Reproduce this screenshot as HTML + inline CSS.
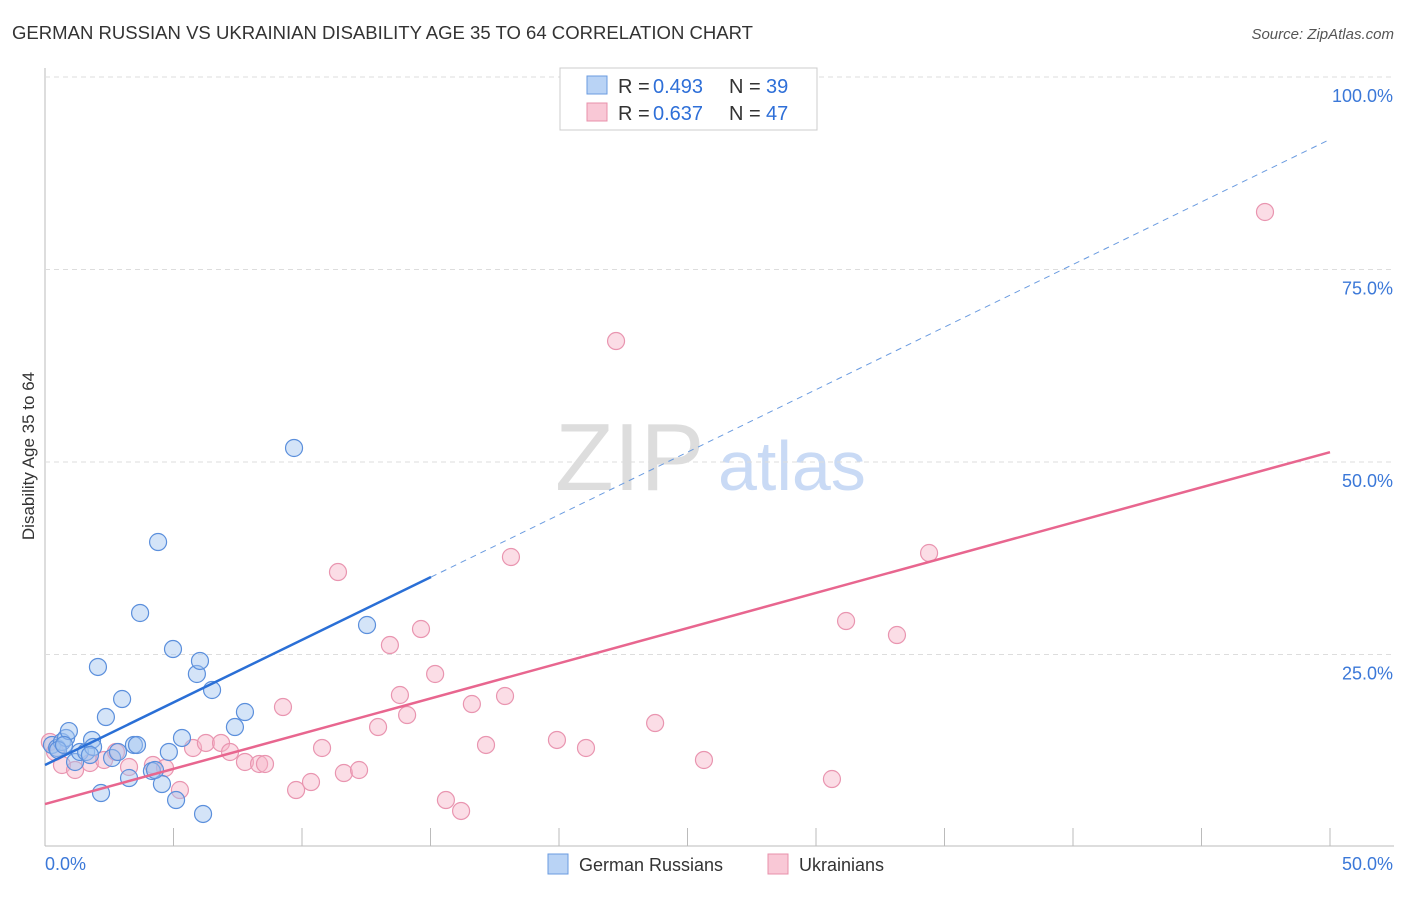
<!DOCTYPE html>
<html><head><meta charset="utf-8"><style>
body{margin:0;background:#fff;font-family:"Liberation Sans",sans-serif;}
svg text{font-family:"Liberation Sans",sans-serif;}
</style></head><body>
<svg id="chart" width="1406" height="892">
<text x="12" y="39" font-size="18" fill="#333" textLength="741" lengthAdjust="spacingAndGlyphs">GERMAN RUSSIAN VS UKRAINIAN DISABILITY AGE 35 TO 64 CORRELATION CHART</text>
<text x="1394" y="39" font-size="15" fill="#555" text-anchor="end" font-style="italic">Source: ZipAtlas.com</text>
<text x="34" y="456" font-size="17" fill="#333" text-anchor="middle" transform="rotate(-90 34 456)">Disability Age 35 to 64</text>
<g><text x="555" y="490" font-size="96" fill="#ddd" font-family="Liberation Serif, serif">ZIP</text><text x="718" y="490" font-size="70" fill="#c9daf5">atlas</text></g>
<g id="grid"></g><g id="marks"></g><g id="lines"></g>
<g>
<rect x="560" y="68" width="257" height="62" fill="#fff" stroke="#ccc"/>
<rect x="587" y="76" width="20" height="18" fill="#b9d3f5" stroke="#6a9be0"/>
<rect x="587" y="103" width="20" height="18" fill="#f9c8d6" stroke="#e890ab"/>
<text x="618" y="93" font-size="20" fill="#333">R =</text><text x="653" y="93" font-size="20" fill="#2e6fd8">0.493</text>
<text x="729" y="93" font-size="20" fill="#333">N =</text><text x="766" y="93" font-size="20" fill="#2e6fd8">39</text>
<text x="618" y="120" font-size="20" fill="#333">R =</text><text x="653" y="120" font-size="20" fill="#2e6fd8">0.637</text>
<text x="729" y="120" font-size="20" fill="#333">N =</text><text x="766" y="120" font-size="20" fill="#2e6fd8">47</text>
</g>
<g>
<rect x="548" y="854" width="20" height="20" fill="#b9d3f5" stroke="#6a9be0"/>
<text x="579" y="871" font-size="18" fill="#333">German Russians</text>
<rect x="768" y="854" width="20" height="20" fill="#f9c8d6" stroke="#e890ab"/>
<text x="799" y="871" font-size="18" fill="#333">Ukrainians</text>
</g>
</svg>
<script>
const blueX=[0.27,0.47,0.66,0.82,0.93,1.17,1.36,1.60,1.83,1.87,2.06,2.18,2.37,2.61,2.84,3.00,3.27,3.46,3.58,3.70,4.16,4.40,4.55,4.82,4.98,5.10,5.33,5.91,6.03,6.15,6.50,7.39,7.78,9.69,12.53,0.51,0.74,1.75,4.28];
const blueY=[13.25,12.86,13.64,14.16,15.06,11.04,12.34,12.34,13.90,12.99,23.38,7.01,16.88,11.56,12.34,19.22,8.96,13.25,13.25,30.39,9.87,39.61,8.18,12.34,25.71,6.10,14.16,22.47,24.16,4.29,20.39,15.58,17.53,51.82,28.83,12.60,13.25,11.95,10.0];
const pinkX=[0.19,0.39,0.66,1.17,1.75,2.30,2.76,3.27,4.20,4.67,5.25,5.76,6.26,6.85,7.20,7.78,8.33,8.56,9.26,9.77,10.35,10.78,11.40,11.63,12.22,12.96,13.42,13.81,14.09,14.63,15.18,15.60,16.19,16.61,17.16,17.90,18.13,19.92,21.05,22.22,23.74,25.64,30.62,31.17,33.15,34.40,47.47];
const pinkY=[13.64,12.34,10.65,10.0,10.91,11.30,12.34,10.39,10.65,10.26,7.40,12.86,13.51,13.51,12.34,11.04,10.78,10.78,18.18,7.40,8.44,12.86,35.71,9.61,10.0,15.58,26.23,19.74,17.14,28.31,22.47,6.10,4.68,18.57,13.25,19.61,37.66,13.90,12.86,65.71,16.10,11.30,8.83,29.35,27.53,38.18,82.47];
const yTicks=[25,50,75,100];
const yTickLabels=["25.0%","50.0%","75.0%","100.0%"];
const xTicks=[0,5,10,15,20,25,30,35,40,45,50];
const blueFit=[10.65,1.625,15.02,49.92];
const pinkFit=[5.58,0.914,50];
const NS="http://www.w3.org/2000/svg";
const sx=v=>45+v*25.7, sy=v=>847-v*7.7;
function mk(p,tag,a){const e=document.createElementNS(NS,tag);for(const k in a)e.setAttribute(k,a[k]);p.appendChild(e);return e;}
const grid=document.getElementById('grid'),marks=document.getElementById('marks'),lines=document.getElementById('lines');
let ax=mk(grid,'line',{x1:45,y1:68,x2:45,y2:846,stroke:'#bbb'});


let bx=mk(grid,'line',{x1:45,y1:846,x2:1394,y2:846,stroke:'#bbb'});


yTicks.forEach((t,i)=>{
 const g=mk(grid,'line',{x1:45,y1:sy(t),x2:1394,y2:sy(t),stroke:'#ddd','stroke-dasharray':'5,4'});
 
 
 const l=mk(grid,'text',{x:1393,y:sy(t)+25,'font-size':18,fill:'#3b78d8','text-anchor':'end'});
 l.textContent=yTickLabels[i];
 
 
});
xTicks.forEach(t=>{
 const k=mk(grid,'line',{x1:sx(t),y1:828,x2:sx(t),y2:846,stroke:'#bbb'});
 
 
});
let xl0=mk(grid,'text',{x:45,y:870,'font-size':18,fill:'#3b78d8'});xl0.textContent='0.0%';


let xl1=mk(grid,'text',{x:1393,y:870,'font-size':18,fill:'#3b78d8','text-anchor':'end'});xl1.textContent='50.0%';


pinkX.forEach((x,i)=>{
 const c=mk(marks,'circle',{cx:sx(x),cy:sy(pinkY[i]),r:8.5,fill:'rgba(246,180,200,0.45)',stroke:'#e995b0','stroke-width':1.2});
 
 
});
blueX.forEach((x,i)=>{
 const c=mk(marks,'circle',{cx:sx(x),cy:sy(blueY[i]),r:8.5,fill:'rgba(160,195,240,0.45)',stroke:'#5b8fdc','stroke-width':1.2});
 
 
});
const bl=mk(lines,'line',{x1:sx(0),y1:sy(blueFit[0]),x2:sx(blueFit[2]),y2:sy(blueFit[0]+blueFit[1]*blueFit[2]),stroke:'#2a6fd6','stroke-width':2.5});


const bd=mk(lines,'line',{x1:sx(blueFit[2]),y1:sy(blueFit[0]+blueFit[1]*blueFit[2]),x2:sx(blueFit[3]),y2:sy(blueFit[0]+blueFit[1]*blueFit[3]),stroke:'#6a9be0','stroke-width':1,'stroke-dasharray':'6,5'});


const pl=mk(lines,'line',{x1:sx(0),y1:sy(pinkFit[0]),x2:sx(pinkFit[2]),y2:sy(pinkFit[0]+pinkFit[1]*pinkFit[2]),stroke:'#e8668f','stroke-width':2.5});


</script>
</body></html>
